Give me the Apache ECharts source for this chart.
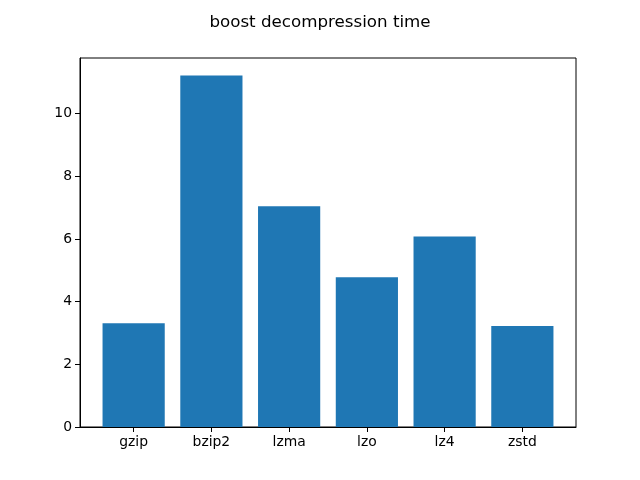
<!DOCTYPE html>
<html>
<head>
<meta charset="utf-8">
<script src="https://cdn.jsdelivr.net/npm/echarts@6/dist/echarts.min.js"></script>
<style>html,body{margin:0;padding:0;background:#fff}#c{width:640px;height:480px}</style>
</head>
<body>
<div id="c"></div>
<script>
var categories = ['gzip', 'bzip2', 'lzma', 'lzo', 'lz4', 'zstd'];
var values = [3.31, 11.21, 7.04, 4.78, 6.08, 3.22];
var yTicks = [0, 2, 4, 6, 8, 10];
var titleText = 'boost decompression time';

var chart = echarts.init(document.getElementById('c'), null, {renderer: 'canvas'});
var xIdx = categories.map(function (c, i) { return i; });
var barData = values.map(function (v, i) { return [i, v]; });
var font = 'DejaVu Sans';
chart.setOption({
  animation: false,
  backgroundColor: '#ffffff',
  title: {
    text: titleText, left: 'center', top: 9,
    textStyle: {fontFamily: font, fontSize: 16.7, fontWeight: 'normal', color: '#000'}
  },
  grid: {left: 80, right: 64, top: 58, bottom: 53, show: true, borderColor: '#000', borderWidth: 1, backgroundColor: 'transparent'},
  xAxis: {
    type: 'value', min: -0.69, max: 5.69,
    splitLine: {show: false},
    axisLine: {show: true, onZero: false, lineStyle: {color: '#000', width: 1}},
    axisTick: {show: true, inside: false, length: 5, lineStyle: {color: '#000'}, customValues: xIdx},
    axisLabel: {
      customValues: xIdx, color: '#000', fontFamily: font, fontSize: 13.9, margin: 8,
      formatter: function (v) { return categories[Math.round(v)]; }
    }
  },
  yAxis: {
    type: 'value', min: 0, max: 11.77,
    splitLine: {show: false},
    axisLine: {show: true, onZero: false, lineStyle: {color: '#000', width: 1}},
    axisTick: {show: true, inside: false, length: 5, lineStyle: {color: '#000'}, customValues: yTicks},
    axisLabel: {customValues: yTicks, color: '#000', fontFamily: font, fontSize: 13.9, margin: 8}
  },
  series: [{
    type: 'custom',
    data: barData,
    renderItem: function (params, api) {
      var x = api.value(0), y = api.value(1);
      var p0 = api.coord([x - 0.4, y]);
      var p1 = api.coord([x + 0.4, 0]);
      return {
        type: 'rect',
        shape: {x: p0[0], y: p0[1], width: p1[0] - p0[0], height: p1[1] - p0[1]},
        style: {fill: '#1f77b4', stroke: null, lineWidth: 0}
      };
    }
  }]
});
</script>
</body>
</html>
